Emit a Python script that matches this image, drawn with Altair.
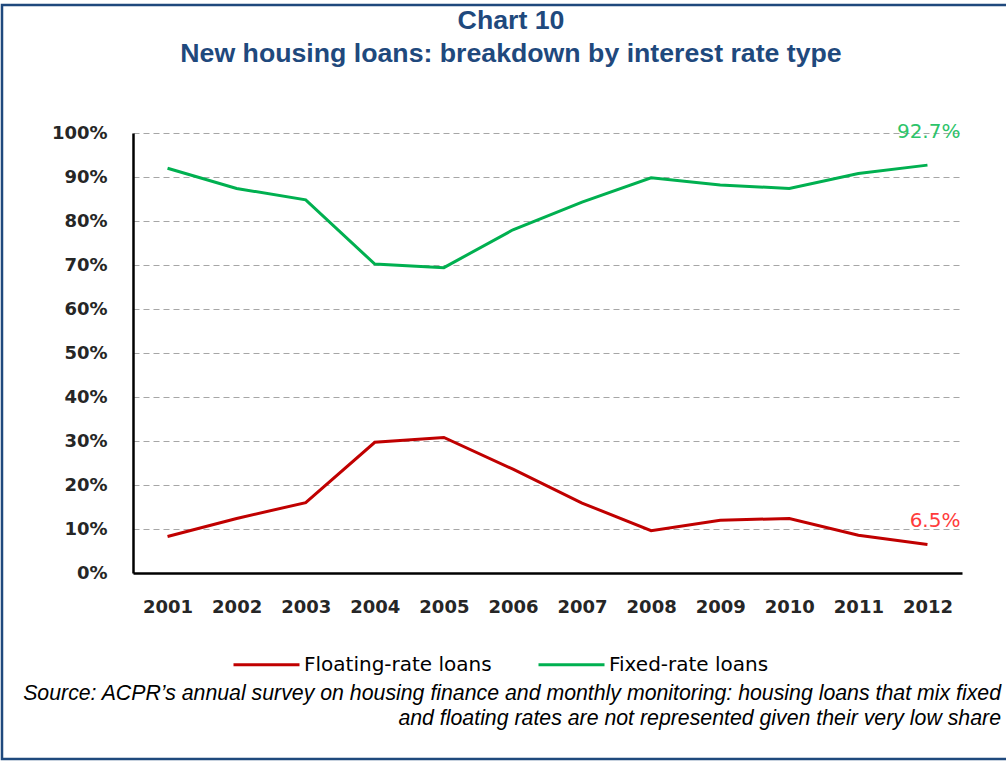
import altair as alt
import pandas as pd

# ---- data ----
years = [str(y) for y in range(2001, 2013)]
floating = [8.3, 12.4, 16.0, 29.7, 30.8, 23.6, 15.9, 9.6, 12.0, 12.4, 8.6, 6.5]
fixed = [92.0, 87.4, 84.8, 70.2, 69.4, 78.0, 84.3, 89.8, 88.2, 87.4, 90.8, 92.7]
series = ["Floating-rate loans", "Fixed-rate loans"]
line_colors = ["#C00000", "#00B050"]
label_colors = ["#FF3B3B", "#2DC46A"]
end_labels = ["6.5%", "92.7%"]
y_ticks = list(range(0, 101, 10))
title_lines = ["Chart 10", "New housing loans: breakdown by interest rate type"]
source_lines = [
    "Source: ACPR\u2019s annual survey on housing finance and monthly monitoring: housing loans that mix fixed",
    "and floating rates are not represented given their very low share",
]

rows = []
for name, vals in zip(series, [floating, fixed]):
    for yr, v in zip(years, vals):
        rows.append({"year": yr, "value": v, "series": name})
df = pd.DataFrame(rows)

# plot area: x 133..962, y 133..573
W, H = 829, 440
OX, OY = 133, 133

x_enc = alt.X("year:O", title=None,
              scale=alt.Scale(type="point", padding=0.5),
              axis=alt.Axis(labelAngle=0, labelFont="DejaVu Sans", labelFontSize=18,
                            labelFontWeight="bold", labelColor="#262626",
                            labelPadding=25, ticks=False, domainColor="#000000",
                            domainWidth=2.5, grid=False))
y_enc = alt.Y("value:Q", title=None,
              scale=alt.Scale(domain=[0, 100], nice=False),
              axis=alt.Axis(values=y_ticks, labelExpr="datum.value + '%'",
                            labelFont="DejaVu Sans", labelFontSize=18, labelFontWeight="bold",
                            labelColor="#262626", labelPadding=26, ticks=False,
                            domainColor="#000000", domainWidth=2.5,
                            grid=True, gridColor="#A6A6A6", gridDash=[6, 4],
                            gridWidth=1.2))

lines = alt.Chart(df).mark_line(strokeWidth=3).encode(
    x=x_enc,
    y=y_enc,
    color=alt.Color("series:N",
                    scale=alt.Scale(domain=series, range=line_colors),
                    sort=series,
                    legend=alt.Legend(orient="none", legendX=99, legendY=497,
                                      direction="horizontal", title=None,
                                      symbolType="stroke", symbolSize=4356,
                                      symbolStrokeWidth=3, labelFont="DejaVu Sans",
                                      labelFontSize=20, labelColor="#000000",
                                      labelLimit=0, labelOffset=3, columnPadding=40)),
)

end_df = pd.DataFrame({"year": [years[-1]] * 2,
                       "value": [floating[-1], fixed[-1]],
                       "series": series,
                       "label": end_labels})

lbl_float = alt.Chart(end_df[end_df.series == series[0]]).mark_text(
    align="right", baseline="middle", dx=33, dy=-23, font="DejaVu Sans", fontSize=20,
    color=label_colors[0]).encode(x="year:O", y="value:Q", text="label:N")
lbl_fixed = alt.Chart(end_df[end_df.series == series[1]]).mark_text(
    align="right", baseline="middle", dx=33, dy=-33, font="DejaVu Sans", fontSize=20,
    color=label_colors[1]).encode(x="year:O", y="value:Q", text="label:N")

one = alt.Data(values=[{"a": 1}])

frame = alt.Chart(one).mark_rect(filled=False, stroke="#1F497D", strokeWidth=2.5).encode(
    x=alt.value(2 - OX), x2=alt.value(1020 - OX),
    y=alt.value(5 - OY), y2=alt.value(759 - OY))

def text_at(txt, x, y, **kw):
    return alt.Chart(one).mark_text(text=txt, **kw).encode(
        x=alt.value(x - OX), y=alt.value(y - OY))

t1 = text_at(title_lines[0], 511, 21, font="Liberation Sans", fontSize=26.7,
             fontWeight="bold", color="#1F497D", align="center", baseline="middle")
t2 = text_at(title_lines[1], 511, 54, font="Liberation Sans", fontSize=26.7,
             fontWeight="bold", color="#1F497D", align="center", baseline="middle")
s1 = text_at(source_lines[0], 1001, 694, font="Liberation Sans", fontSize=21.3,
             fontStyle="italic", color="#000000", align="right", baseline="middle")
s2 = text_at(source_lines[1], 1001, 719, font="Liberation Sans", fontSize=21.3,
             fontStyle="italic", color="#000000", align="right", baseline="middle")

chart = alt.layer(frame, lines, lbl_float, lbl_fixed, t1, t2, s1, s2).properties(
    width=W, height=H,
    autosize=alt.AutoSizeParams(type="none"),
    padding={"left": OX, "top": OY, "right": 1006 - OX - W, "bottom": 761 - OY - H},
    background="white",
).configure_view(stroke=None)

chart.save("out.html", embed_options={"renderer": "svg", "actions": False})
